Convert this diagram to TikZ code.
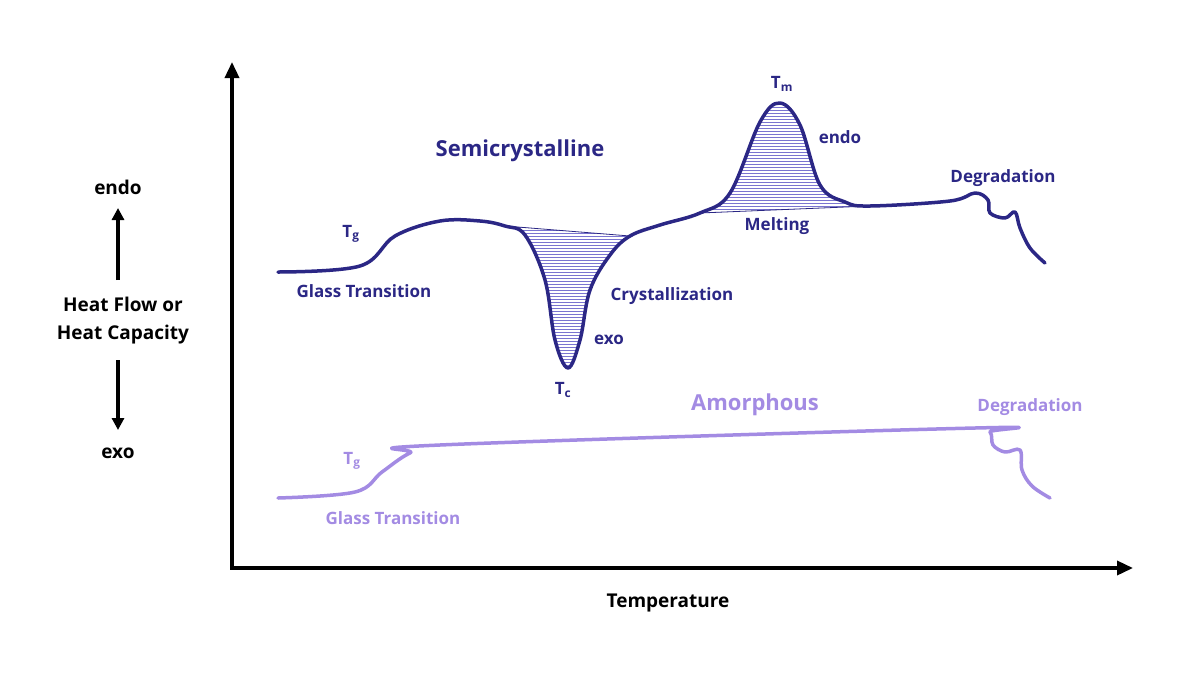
\documentclass[tikz,border=0pt]{standalone}
\usepackage{fontspec}
\setmainfont{Open Sans}
\usetikzlibrary{patterns,arrows.meta}
\definecolor{navy}{HTML}{2B2785}
\definecolor{lav}{HTML}{A38BE3}
\definecolor{hatch}{HTML}{7A74D0}
\begin{document}
\begin{tikzpicture}[x=1pt,y=-1pt,
  lbl/.style={font=\bfseries\fontsize{17}{20}\selectfont,inner sep=0pt},
  big/.style={font=\bfseries\fontsize{22}{26}\selectfont,inner sep=0pt},
  axis/.style={line width=3.5pt,-{Triangle[length=16pt,width=14pt]}},
  curve/.style={line width=3.5pt,line cap=round,line join=round}]
\useasboundingbox (0,0) rectangle (1200,678);
% hatch regions
\fill[pattern=horizontal lines,pattern color=hatch] plot[smooth,tension=0.6] coordinates {(505,226)(525,235)(545,280)(555,340)(568,368)(580,340)(590,290)(610,255)(630,236)} -- cycle;
\fill[pattern=horizontal lines,pattern color=hatch] plot[smooth,tension=0.6] coordinates {(700,213)(730,193)(760,122)(780,103)(800,125)(820,185)(845,202)(870,206)} -- cycle;
\draw[navy,line width=0.8pt] (505,226) -- (630,236);
\draw[navy,line width=0.8pt] (700,213) -- (870,206);
% semicrystalline curve
\draw[curve,navy] plot[smooth,tension=0.6] coordinates {(278,272)(360,266)(395,236)(440,221)(480,221)(505,226)(525,235)(545,280)(555,340)(568,368)(580,340)(590,290)(610,255)(630,236)(660,225)(700,213)(730,193)(760,122)(780,103)(800,125)(820,185)(845,202)(870,206)(950,201)(975,193)(988,200)(990,213)(1005,218)(1015,212)(1020,228)(1030,248)(1045,263)};
% amorphous
\draw[curve,lav] plot[smooth,tension=0.6] coordinates {(278,498)(355,492)(382,472)(410,453)(440,445)(975,428)(990,432)(993,445)(1005,452)(1020,450)(1022,470)(1032,486)(1050,498)};
% axes
\coordinate (O) at (232,568);
\coordinate (Y) at (232,62);
\coordinate (X) at (1133,568);
\draw[axis] (O) -- (Y);
\draw[axis] ([xshift=-1.75pt]O) -- (X);
% left labels
\node[lbl,font=\bfseries\fontsize{19}{22}\selectfont] (endo) at (118,187) {endo};
\node[lbl,font=\bfseries\fontsize{19}{22}\selectfont,align=center] (hf) at (123,321) {Heat Flow or\\[6pt]Heat Capacity};
\node[lbl,font=\bfseries\fontsize{19}{22}\selectfont] (exo) at (118,453) {exo};
\coordinate (a1) at (118,280); \coordinate (a2) at (118,208);
\coordinate (b1) at (118,360); \coordinate (b2) at (118,430);
\draw[line width=3.5pt,-{Triangle[length=12pt,width=12pt]}] (a1) -- (a2);
\draw[line width=3.5pt,-{Triangle[length=12pt,width=12pt]}] (b1) -- (b2);
\node[lbl,font=\bfseries\fontsize{19}{22}\selectfont] (temp) at (668,603) {Temperature};
% curve labels
\begin{scope}[navy]
\node[big] (semi) at (520,151) {Semicrystalline};
\node[lbl] (tg1) at (351,234) {T\textsubscript{g}};
\node[lbl] (gt1) at (364,291) {Glass Transition};
\node[lbl] (tc) at (563,390) {T\textsubscript{c}};
\node[lbl] (exo2) at (609,340) {exo};
\node[lbl] (cry) at (672,296) {Crystallization};
\node[lbl] (tm) at (782,84) {T\textsubscript{m}};
\node[lbl] (endo2) at (840,137) {endo};
\node[lbl] (melt) at (777,226) {Melting};
\node[lbl] (deg1) at (1003,178) {Degradation};
\end{scope}
\begin{scope}[lav]
\node[big] (amor) at (755,405) {Amorphous};
\node[lbl] (deg2) at (1030,407) {Degradation};
\node[lbl] (tg2) at (352,461) {T\textsubscript{g}};
\node[lbl] (gt2) at (393,518) {Glass Transition};
\end{scope}
\end{tikzpicture}
\end{document}
